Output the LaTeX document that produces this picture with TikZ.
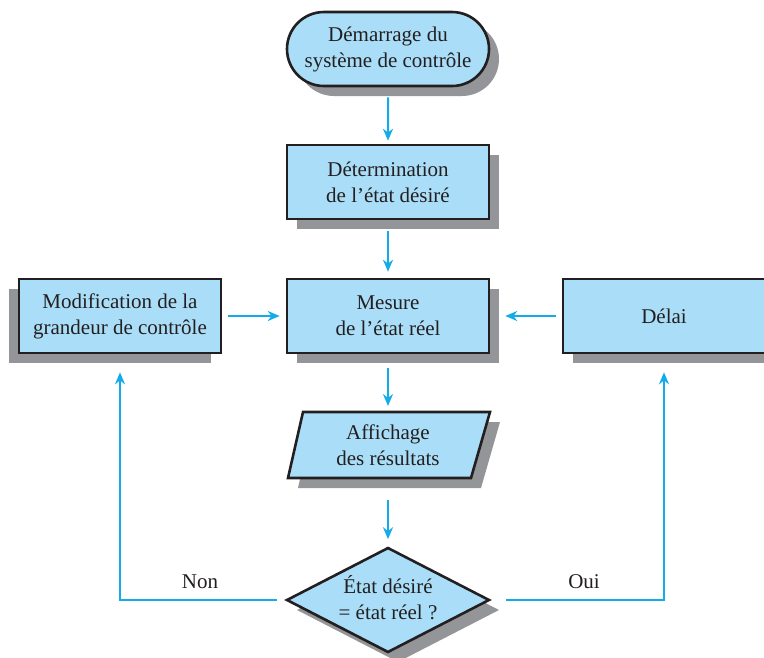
\documentclass[tikz,border=0pt]{standalone}
\usepackage{fontspec}
\setmainfont{Liberation Serif}
\usetikzlibrary{arrows.meta,shapes.geometric,shapes.misc,shadows,calc}
\definecolor{boxfill}{HTML}{AADEF8}
\definecolor{flow}{HTML}{14ACE8}
\definecolor{shadowgray}{HTML}{939598}
\definecolor{ink}{HTML}{231F20}
\begin{document}
\begin{tikzpicture}[x=1pt,y=-1pt,
  base/.style={draw=ink, line width=2.6pt, fill=boxfill, inner sep=0pt, align=center,
    font=\fontsize{21}{26}\selectfont, text=ink},
  box/.style={base, minimum width=202pt, minimum height=74pt},
  shR/.style={drop shadow={shadow xshift=10pt, shadow yshift=-10pt, fill=shadowgray, opacity=1}},
  shL/.style={drop shadow={shadow xshift=-10pt, shadow yshift=-10pt, fill=shadowgray, opacity=1}},
  txt/.style={align=center, font=\fontsize{21}{26}\selectfont, text=ink, inner sep=0pt},
  flowline/.style={draw=flow, line width=2pt},
  arr/.style={flowline, -{Stealth[length=12pt,width=10pt]}},
]
\useasboundingbox (0,0) rectangle (764,657);
\fill[white] (0,0) rectangle (764,657);

\node[base, rounded rectangle, minimum width=202pt, minimum height=74pt, shR] (start) at (388,49)
  {Démarrage du\\système de contrôle};
\node[box, shR] (det) at (388,182) {Détermination\\de l’état désiré};
\node[box, shR] (mes) at (388,316) {Mesure\\de l’état réel};
\node[box, shL] (mod) at (120,316) {Modification de la\\grandeur de contrôle};
\node[box, shR] (del) at (664,316) {Délai};

% parallelogram (output)
\coordinate (affBL) at (288,478);
\coordinate (affTL) at (303,412);
\coordinate (affTR) at (490,412);
\coordinate (affBR) at (471,478);
\begin{scope}[xshift=10pt, yshift=-10pt]
\fill[shadowgray] (288,478) -- (303,412) -- (490,412) -- (471,478) -- cycle;
\end{scope}
\filldraw[draw=ink, fill=boxfill, line width=2.6pt, line join=miter] (affBL) -- (affTL) -- (affTR) -- (affBR) -- cycle;
\coordinate (affN) at (388,412);
\coordinate (affS) at (388,478);
\node[txt] (aff) at (388,445) {Affichage\\des résultats};

\node[base, diamond, minimum width=203pt, minimum height=105pt, shR] (dec) at (388,600) {};
\node[txt] (dectxt) at ($(dec.center)+(0,-2)$) {État désiré\\= état réel ?};

\draw[arr, shorten <=10pt, shorten >=3pt] (start) -- (det);
\draw[arr, shorten <=11pt, shorten >=6pt] (det) -- (mes);
\draw[arr, shorten <=14pt, shorten >=6pt] (mes) -- (affN);
\draw[arr, shorten <=22pt, shorten >=7pt] (affS) -- (dec);
\draw[arr, shorten <=6pt, shorten >=6pt] (mod) -- (mes);
\draw[arr, shorten <=6pt, shorten >=15pt] (del) -- (mes);
\draw[arr, shorten <=8pt, shorten >=18pt] (dec.west) -| (mod.south);
\draw[arr, shorten <=15pt, shorten >=18pt] (dec.east) -| (del.south);
\node[txt] (non) at (200,582) {Non};
\node[txt] (oui) at (584,582) {Oui};
\end{tikzpicture}
\end{document}
